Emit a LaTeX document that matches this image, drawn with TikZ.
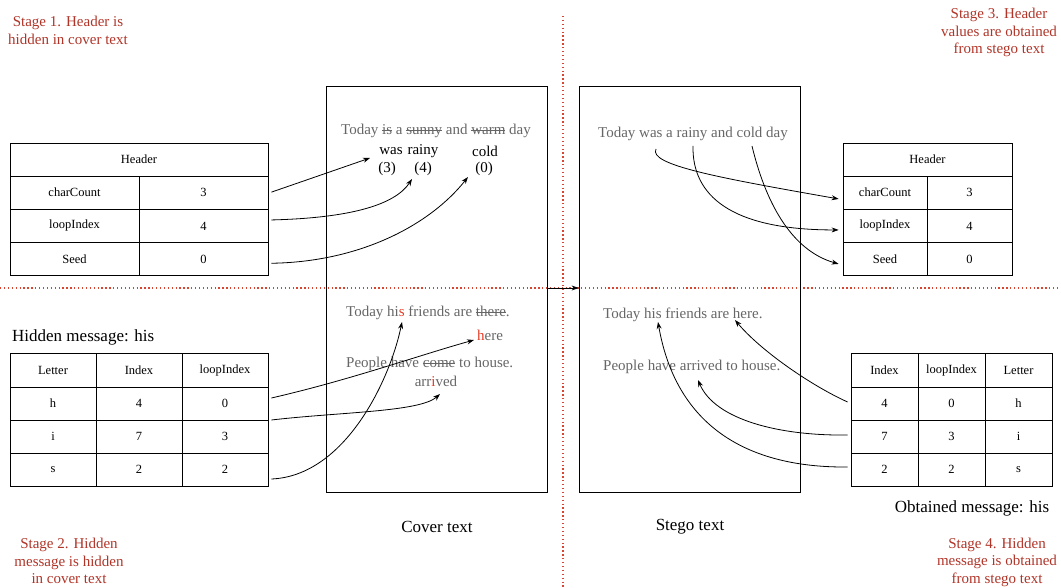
\documentclass[tikz,border=0pt]{standalone}
\usepackage{fontspec}
\setmainfont{Liberation Serif}
\usetikzlibrary{arrows.meta}
\definecolor{stagered}{RGB}{176,52,40}
\definecolor{dotred}{RGB}{215,70,50}
\definecolor{txtgray}{RGB}{102,102,102}
\definecolor{hl}{RGB}{228,58,36}
% struck-through word
\newcommand{\strk}[1]{\setbox0\hbox{#1}\rlap{\rule[0.28em]{\wd0}{0.7pt}}\box0\relax}
\begin{document}
\begin{tikzpicture}[x=1pt,y=-1pt,
  cell/.style={draw=black, line width=0.8pt, inner sep=0pt, font=\fontsize{12.5}{14}\selectfont, text=black},
  hcell/.style={cell, minimum height=33pt},
  rcell/.style={cell, minimum height=33.3pt},
  lt/.style={font=\fontsize{15}{17}\selectfont, text=txtgray, inner sep=0pt},
  bt/.style={font=\fontsize{15}{17}\selectfont, text=black, inner sep=0pt},
  stage/.style={font=\fontsize{15}{17.5}\selectfont, text=stagered, align=center, inner sep=0pt},
  big/.style={font=\fontsize{17}{20}\selectfont, text=black, inner sep=0pt},
  frame/.style={draw=black, line width=0.8pt, inner sep=0pt},
  conn/.style={-{Stealth[length=7pt,width=5pt]}, line width=0.8pt},
  sep/.style={draw=dotred, line width=1.3pt, dash pattern=on 1.3pt off 2.6pt}
]
\useasboundingbox (0,0) rectangle (1061,588);

% separators
\coordinate (hl0) at (0,288);
\coordinate (hl1) at (1061,288);
\coordinate (vl0) at (563,16);
\coordinate (vl1) at (563,588);
\draw[sep] (hl0) -- (hl1);
\draw[sep] (vl0) -- (vl1);

% stage labels
\node[stage] (s1) at (68,30.5) {Stage 1. Header is\\hidden in cover text};
\node[stage] (s2) at (69,561) {Stage 2. Hidden\\message is hidden\\in cover text};
\node[stage] (s3) at (999,32.5) {Stage 3. Header\\values are obtained\\from stego text};
\node[stage] (s4) at (997,562) {Stage 4. Hidden\\message is obtained\\from stego text};

% text boxes
\node[frame, minimum width=221pt, minimum height=406pt] (cover) at (436.5,289) {};
\node[frame, minimum width=221pt, minimum height=406pt] (stego) at (689.5,289) {};
\node[big] (covl) at (437,527) {Cover text};
\node[big] (stgl) at (690,527) {Stego text};
\draw[conn] (cover.east |- hl0) -- (stego.west |- hl0);

% left header table
\node[hcell, minimum width=258pt] (lhh) at (139,159.5) {Header};
\node[rcell, minimum width=129pt] (lh1a) at (74.5,192.65) {charCount};
\node[rcell, minimum width=129pt] (lh1b) at (203.5,192.65) {3};
\node[rcell, minimum width=129pt] (lh2a) at (74.5,225.95) {loopIndex};
\node[rcell, minimum width=129pt] (lh2b) at (203.5,225.95) {4};
\node[rcell, minimum width=129pt] (lh3a) at (74.5,259.25) {Seed};
\node[rcell, minimum width=129pt] (lh3b) at (203.5,259.25) {0};

% right header table
\node[hcell, minimum width=169pt] (rhh) at (927.5,159.5) {Header};
\node[rcell, minimum width=84pt] (rh1a) at (885,192.65) {charCount};
\node[rcell, minimum width=85pt] (rh1b) at (969.5,192.65) {3};
\node[rcell, minimum width=84pt] (rh2a) at (885,225.95) {loopIndex};
\node[rcell, minimum width=85pt] (rh2b) at (969.5,225.95) {4};
\node[rcell, minimum width=84pt] (rh3a) at (885,259.25) {Seed};
\node[rcell, minimum width=85pt] (rh3b) at (969.5,259.25) {0};

% left message table
\node[big, anchor=west] (hid) at (12,337) {Hidden message: his};
\node[hcell, minimum width=86pt, minimum height=34pt] (lm0a) at (53,370) {Letter};
\node[hcell, minimum width=86pt, minimum height=34pt] (lm0b) at (139,370) {Index};
\node[hcell, minimum width=86pt, minimum height=34pt] (lm0c) at (225,370) {loopIndex};
\node[hcell, minimum width=86pt] (lm1a) at (53,403.5) {h};
\node[hcell, minimum width=86pt] (lm1b) at (139,403.5) {4};
\node[hcell, minimum width=86pt] (lm1c) at (225,403.5) {0};
\node[hcell, minimum width=86pt] (lm2a) at (53,436.5) {i};
\node[hcell, minimum width=86pt] (lm2b) at (139,436.5) {7};
\node[hcell, minimum width=86pt] (lm2c) at (225,436.5) {3};
\node[hcell, minimum width=86pt] (lm3a) at (53,469.5) {s};
\node[hcell, minimum width=86pt] (lm3b) at (139,469.5) {2};
\node[hcell, minimum width=86pt] (lm3c) at (225,469.5) {2};

% right message table
\node[hcell, minimum width=67pt, minimum height=34pt] (rm0a) at (884.5,370) {Index};
\node[hcell, minimum width=67pt, minimum height=34pt] (rm0b) at (951.5,370) {loopIndex};
\node[hcell, minimum width=67pt, minimum height=34pt] (rm0c) at (1018.5,370) {Letter};
\node[hcell, minimum width=67pt] (rm1a) at (884.5,403.5) {4};
\node[hcell, minimum width=67pt] (rm1b) at (951.5,403.5) {0};
\node[hcell, minimum width=67pt] (rm1c) at (1018.5,403.5) {h};
\node[hcell, minimum width=67pt] (rm2a) at (884.5,436.5) {7};
\node[hcell, minimum width=67pt] (rm2b) at (951.5,436.5) {3};
\node[hcell, minimum width=67pt] (rm2c) at (1018.5,436.5) {i};
\node[hcell, minimum width=67pt] (rm3a) at (884.5,469.5) {2};
\node[hcell, minimum width=67pt] (rm3b) at (951.5,469.5) {2};
\node[hcell, minimum width=67pt] (rm3c) at (1018.5,469.5) {s};
\node[big] (obt) at (972,508) {Obtained message: his};

% cover text contents
\node[lt] (c1) at (436,131) {Today \strk{is} a \strk{sunny} and \strk{warm} day};
\node[bt] (was) at (391,151) {was};
\node[bt] (rainy) at (423,151) {rainy};
\node[bt] (cold) at (485,151) {cold};
\node[bt] (n3) at (387,169) {(3)};
\node[bt] (n4) at (423,169) {(4)};
\node[bt] (n0) at (484,169) {(0)};
\node[lt, anchor=west] (c2) at (346,313) {Today hi{\color{hl}s} friends are \strk{there}.};
\node[lt] (here) at (490,335) {{\color{hl}h}ere};
\node[lt, anchor=west] (c3) at (346,364) {People have \strk{come} to house.};
\node[lt] (arr) at (436,381) {arr{\color{hl}i}ved};

% stego text contents
\node[lt] (g1) at (693,134) {Today was a rainy and cold day};
\node[lt, anchor=west] (g2) at (603,315) {Today his friends are here.};
\node[lt, anchor=west] (g3) at (603,367) {People have arrived to house.};

% connector ends inside the texts
\coordinate (cwas) at (370,158);
\coordinate (crainy) at (412,179);
\coordinate (ccold) at (468,177);
\coordinate (chere) at (474,340);
\coordinate (carr) at (440,394);
\coordinate (chis) at (402,322);
\coordinate (gwas) at (656,149);
\coordinate (grainy) at (693,146);
\coordinate (gcold) at (752,146);
\coordinate (ghere) at (735,320);
\coordinate (garr) at (698,380);
\coordinate (ghis) at (658,322);

% hiding the header
\draw[conn] ([xshift=3pt,yshift=0.5pt]lh1b.east) -- (cwas);
\draw[conn] ([xshift=3pt,yshift=6pt]lh2b.east) .. controls (350,218) and (395,205) .. (crainy);
\draw[conn] ([xshift=3pt,yshift=-4pt]lh3b.east) .. controls (360,262) and (430,225) .. (ccold);

% hiding the message
\draw[conn] ([xshift=3pt,yshift=5.5pt]lm1c.east) .. controls (350,380) and (420,355) .. (chere);
\draw[conn] ([xshift=3pt,yshift=16.5pt]lm2c.east) .. controls (340,412) and (420,412) .. (carr);
\draw[conn] ([xshift=3pt,yshift=-9.5pt]lm3c.east) .. controls (345,476) and (390,380) .. (chis);

% reading the header
\draw[conn] (gwas) .. controls (648,165) and (720,178) .. ([xshift=-4pt,yshift=-6.3pt]rh1a.west);
\draw[conn] (grainy) .. controls (692,195) and (730,230) .. ([xshift=-4pt,yshift=-4pt]rh2a.west);
\draw[conn] (gcold) .. controls (765,200) and (790,250) .. ([xshift=-4pt,yshift=-4.7pt]rh3a.west);

% reading the message
\draw[conn] ([xshift=-3pt,yshift=1.5pt]rm1a.west) .. controls (810,385) and (760,350) .. (ghere);
\draw[conn] ([xshift=-3pt,yshift=1.5pt]rm2a.west) .. controls (780,436) and (715,420) .. (garr);
\draw[conn] ([xshift=-3pt,yshift=2.5pt]rm3a.west) .. controls (740,468) and (675,420) .. (ghis);
\end{tikzpicture}
\end{document}
